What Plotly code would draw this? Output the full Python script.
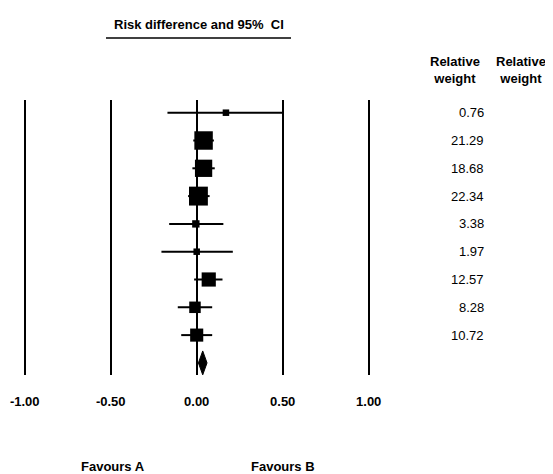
import plotly.graph_objects as go

# ---- data ----
rows = [1, 2, 3, 4, 5, 6, 7, 8, 9]
estimate = [0.17, 0.04, 0.04, 0.01, -0.005, 0.0, 0.07, -0.01, 0.0]
ci_low = [-0.17, -0.02, -0.025, -0.05, -0.16, -0.205, -0.015, -0.11, -0.09]
ci_high = [0.50, 0.10, 0.105, 0.075, 0.155, 0.21, 0.15, 0.09, 0.09]
weights = [0.76, 21.29, 18.68, 22.34, 3.38, 1.97, 12.57, 8.28, 10.72]
weight_labels = ["0.76", "21.29", "18.68", "22.34", "3.38", "1.97", "12.57", "8.28", "10.72"]

pooled_row = 10
pooled_est = 0.035
pooled_low = 0.01
pooled_high = 0.06

tick_values = [-1.0, -0.5, 0.0, 0.5, 1.0]
tick_labels = ["-1.00", "-0.50", "0.00", "0.50", "1.00"]

title_text = "Risk difference and 95%  CI"
weight_header = "Relative<br>weight"
favours_a = "Favours A"
favours_b = "Favours B"

FONT = "Liberation Sans, Arial, sans-serif"
PAGE_OFF = 8  # default page margin around the plot div
W, H = 553 - PAGE_OFF, 474 - PAGE_OFF

def px(x):
    return (x - PAGE_OFF) / W

def py(y):
    return 1 - (y - PAGE_OFF) / H

fig = go.Figure()

# confidence-interval whiskers
cx, cy = [], []
for r, lo, hi in zip(rows, ci_low, ci_high):
    cx += [lo, hi, None]
    cy += [r, r, None]
fig.add_trace(go.Scatter(x=cx, y=cy, mode="lines",
                         line=dict(color="black", width=2),
                         hoverinfo="skip", showlegend=False))

# study point estimates (square, sized by weight)
sizes = [max(6.5, 4.0 * w ** 0.5) for w in weights]
fig.add_trace(go.Scatter(x=estimate, y=rows, mode="markers",
                         marker=dict(symbol="square", size=sizes, color="black",
                                     opacity=1, line=dict(width=0)),
                         showlegend=False))

# pooled diamond
half_h = 0.43
fig.add_trace(go.Scatter(
    x=[pooled_low, pooled_est, pooled_high, pooled_est, pooled_low],
    y=[pooled_row, pooled_row - half_h, pooled_row, pooled_row + half_h, pooled_row],
    mode="lines", fill="toself", fillcolor="black",
    line=dict(color="black", width=1), showlegend=False))

annotations = []
# weight column
for r, lab in zip(rows, weight_labels):
    annotations.append(dict(x=px(486), xref="paper", y=r, yref="y", text=lab,
                            xanchor="right", yanchor="middle", showarrow=False,
                            font=dict(family=FONT, size=13, color="black")))
# headers
for xc in (455, 521):
    annotations.append(dict(x=px(xc), xref="paper", y=py(70), yref="paper",
                            text=weight_header, xanchor="center", yanchor="middle",
                            showarrow=False,
                            font=dict(family=FONT, size=13, color="black", weight="bold")))
# title
annotations.append(dict(x=px(199), xref="paper", y=py(24), yref="paper",
                        text=title_text, xanchor="center", yanchor="middle",
                        showarrow=False,
                        font=dict(family=FONT, size=13, color="black", weight="bold")))
# favours
annotations.append(dict(x=px(113), xref="paper", y=py(466), yref="paper",
                        text=favours_a, xanchor="center", yanchor="middle",
                        showarrow=False,
                        font=dict(family=FONT, size=13, color="black", weight="bold")))
annotations.append(dict(x=px(283.5), xref="paper", y=py(466), yref="paper",
                        text=favours_b, xanchor="center", yanchor="middle",
                        showarrow=False,
                        font=dict(family=FONT, size=13, color="black", weight="bold")))

shapes = [dict(type="line", xref="paper", yref="paper",
               x0=px(106), x1=px(291), y0=py(38), y1=py(38),
               line=dict(color="black", width=1.5))]

zero_px = 196.7 - PAGE_OFF
unit_px = 172.0
x_range = [-zero_px / unit_px, (W - zero_px) / unit_px]
row_px0 = 112.7
row_step = 27.8
y_top = 1 - (row_px0 - 100) / row_step
y_bot = 1 + (375 - row_px0) / row_step

fig.update_layout(
    width=W, height=H,
    margin=dict(l=0, r=0, t=0, b=0),
    paper_bgcolor="white", plot_bgcolor="white",
    showlegend=False,
    xaxis=dict(domain=[0, 1], range=x_range, tickvals=tick_values, ticktext=tick_labels,
               showgrid=True, gridcolor="black", gridwidth=2, zeroline=False,
               showline=False, ticks="", ticklabelstandoff=17,
               tickfont=dict(family=FONT, size=13, color="black", weight="bold"),
               fixedrange=True),
    yaxis=dict(domain=[py(375), py(100)], range=[y_bot, y_top], visible=False,
               showgrid=False, zeroline=False, fixedrange=True),
    annotations=annotations,
    shapes=shapes,
    font=dict(family=FONT, size=13, color="black"),
)

fig.write_html("out.html")
